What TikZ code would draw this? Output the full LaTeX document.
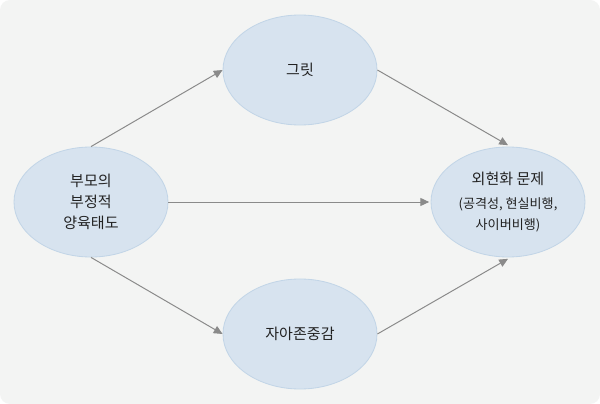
\documentclass[tikz,border=0pt]{standalone}
\usepackage{fontspec}
\setmainfont{Noto Sans CJK KR}
\usetikzlibrary{arrows.meta,shapes.geometric}
\definecolor{pathbg}{HTML}{F3F4F3}
\definecolor{pathblue}{HTML}{D7E3EF}
\definecolor{pathblueline}{HTML}{C2D5E7}
\definecolor{pathgray}{HTML}{8A8A8A}
\definecolor{pathtext}{HTML}{222222}

\begin{document}
\begin{tikzpicture}[
  var/.style={ellipse,draw=pathblueline,fill=pathblue,line width=0.6pt,
    minimum width=3.85cm,minimum height=2.75cm,inner sep=0pt,
    align=center,text=pathtext,font=\fontsize{10.7}{15}\selectfont},
  sub/.style={font=\fontsize{9.3}{13}\selectfont},
  arr/.style={-{Triangle[length=0.22cm,width=0.2cm]},line width=0.7pt,color=pathgray}
]
  \fill[white] (0,0) rectangle (15,10.1);
  \fill[pathbg,rounded corners=0.25cm] (0,0) rectangle (15,10.1);

  \node[var] (par)  at (2.275,5.05) {부모의\\부정적\\양육태도};
  \node[var] (grit) at (7.5,8.35)   {그릿};
  \node[var] (self) at (7.5,1.75)   {자아존중감};
  \node[var] (ext)  at (12.7,5.05)  {외현화 문제\\[2pt]{\fontsize{9.3}{13}\selectfont(공격성, 현실비행,}\\{\fontsize{9.3}{13}\selectfont 사이버비행)}};

  \draw[arr] (par.north) -- (grit.west);
  \draw[arr] (grit.east) -- ([yshift=1pt]ext.north);
  \draw[arr] (par.east)  -- ([xshift=-1pt]ext.west);
  \draw[arr] (par.south) -- (self.west);
  \draw[arr] (self.east) -- ([yshift=-1pt]ext.south);
\end{tikzpicture}
\end{document}
